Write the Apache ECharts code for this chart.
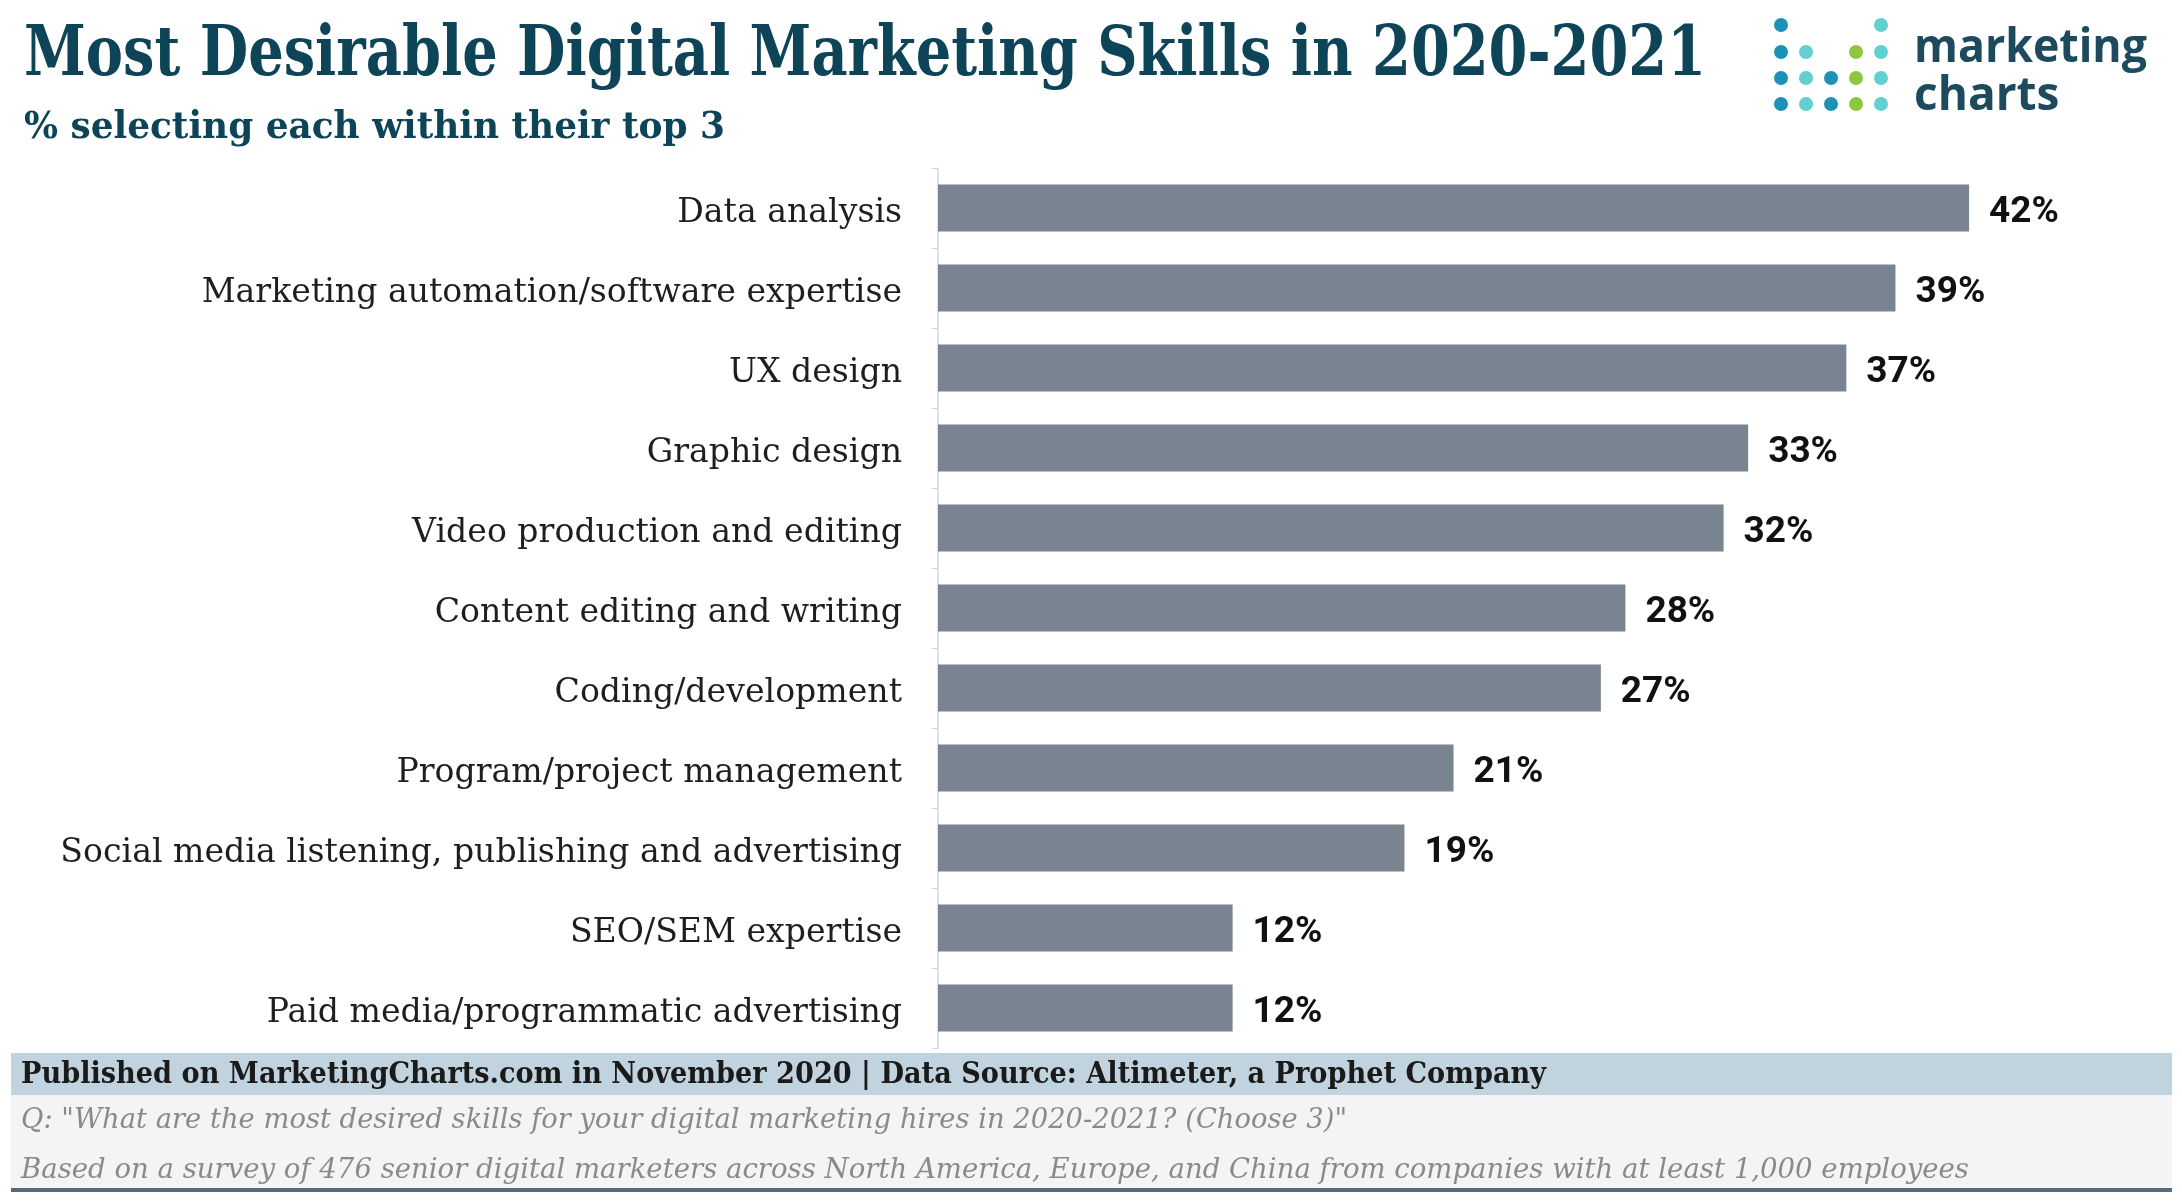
<!DOCTYPE html>
<html>
<head>
<meta charset="utf-8">
<script src="https://cdn.jsdelivr.net/npm/echarts@6/dist/echarts.min.js"></script>
<style>
html,body{margin:0;padding:0;background:#fff;}
#chart{width:2182px;height:1202px;}
</style>
</head>
<body>
<div id="chart"></div>
<script>
// ---- data ----
const categories = [
  "Data analysis",
  "Marketing automation/software expertise",
  "UX design",
  "Graphic design",
  "Video production and editing",
  "Content editing and writing",
  "Coding/development",
  "Program/project management",
  "Social media listening, publishing and advertising",
  "SEO/SEM expertise",
  "Paid media/programmatic advertising"
];
const values = [42, 39, 37, 33, 32, 28, 27, 21, 19, 12, 12];

const titleText = "Most Desirable Digital Marketing Skills in 2020-2021";
const subtitleText = "% selecting each within their top 3";
const publishedText = "Published on MarketingCharts.com in November 2020 | Data Source: Altimeter, a Prophet Company";
const questionText = "Q: \"What are the most desired skills for your digital marketing hires in 2020-2021? (Choose 3)\"";
const basedText = "Based on a survey of 476 senior digital marketers across North America, Europe, and China from companies with at least 1,000 employees";

// ---- text measurement helpers ----
const mctx = document.createElement('canvas').getContext('2d');
function measure(text, font) { mctx.font = font; return mctx.measureText(text).width; }
function fit(text, font, target) { return target / measure(text, font); }

const SERIF = '"DejaVu Serif", "Liberation Serif", serif';
const titleFont = 'bold 70px ' + SERIF;
const subFont = 'bold 38px ' + SERIF;
const pubFont = 'bold 29px ' + SERIF;
const qFont = 'italic 28px ' + SERIF;
const logoFont = 'bold 46px "Open Sans", sans-serif';

function txt(text, font, fill, x, y, targetW) {
  return {
    type: 'text', x: x, y: y,
    scaleX: targetW ? fit(text, font, targetW) : 1,
    silent: true,
    style: { text: text, font: font, fill: fill, textAlign: 'left', textVerticalAlign: 'middle', verticalAlign: 'middle' }
  };
}

// category label font size fitted to reference width of longest label
const longest = categories[8];
const catFontSize = 30 * 842 / measure(longest, '30px ' + SERIF);

// logo dots (decoration)
const DK = '#1c92b6', LT = '#62cfd0', GR = '#8dc63f';
const dotCols = [1781, 1806, 1831, 1856, 1881];
const dotRows = [25, 52, 78, 104];
const dotPattern = [
  [DK, null, null, null, LT],
  [DK, LT, null, GR, LT],
  [DK, LT, DK, GR, LT],
  [DK, LT, DK, GR, LT]
];
const dots = [];
dotPattern.forEach((row, r) => row.forEach((c, k) => {
  if (c) dots.push({ type: 'circle', silent: true, shape: { cx: dotCols[k], cy: dotRows[r], r: 7 }, style: { fill: c } });
}));

const chart = echarts.init(document.getElementById('chart'), null, { renderer: 'canvas' });
chart.setOption({
  backgroundColor: '#ffffff',
  animation: false,
  grid: { left: 938, top: 168, width: 1227.5, height: 880, containLabel: false },
  xAxis: {
    type: 'value', min: 0, max: 50,
    show: false,
    splitLine: { show: false }
  },
  yAxis: {
    type: 'category', data: categories, inverse: true,
    axisLine: { show: true, lineStyle: { color: '#d4d4d4', width: 1.5 } },
    axisTick: { show: true, length: 6, lineStyle: { color: '#d4d4d4' } },
    axisLabel: {
      margin: 36, color: '#1e1e1e',
      fontFamily: SERIF, fontSize: catFontSize,
      verticalAlign: 'top', lineHeight: 10
    }
  },
  series: [{
    type: 'bar', data: values,
    barWidth: 47,
    itemStyle: { color: '#78848f' },
    label: {
      show: true, position: 'right', distance: 20,
      offset: [0, 5],
      formatter: '{c}%',
      color: '#111', fontWeight: 'bold', fontSize: 37, fontFamily: 'Roboto, sans-serif'
    }
  }],
  graphic: [
    txt(titleText, titleFont, '#0e4458', 24, 57, 1682),
    txt(subtitleText, subFont, '#0e4458', 24, 128, 701),
    txt('marketing', logoFont, '#1d4a5c', 1914, 49, 233),
    txt('charts', logoFont, '#1d4a5c', 1914, 97, null),
    ...dots,
    { type: 'rect', silent: true, shape: { x: 11, y: 1053, width: 2161, height: 42 }, style: { fill: '#c1d3de' } },
    { type: 'rect', silent: true, shape: { x: 11, y: 1095, width: 2161, height: 93 }, style: { fill: '#f4f4f6' } },
    { type: 'rect', silent: true, shape: { x: 11, y: 1188, width: 2161, height: 4 }, style: { fill: '#566a7a' } },
    txt(publishedText, pubFont, '#1a1a1a', 21, 1075, 1525),
    txt(questionText, qFont, '#8a8a8a', 21, 1121, 1326),
    txt(basedText, qFont, '#8a8a8a', 21, 1171, 1948)
  ]
});
</script>
</body>
</html>
